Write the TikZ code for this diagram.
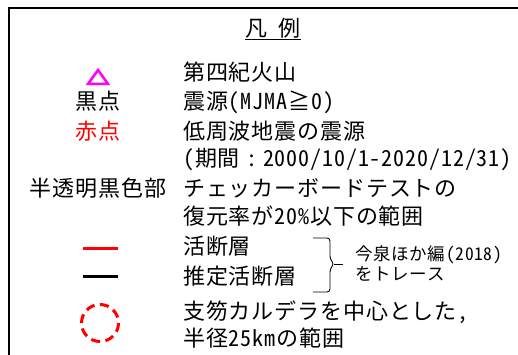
\documentclass[tikz,border=0pt]{standalone}
\usepackage{fontspec}
\usepackage{tikz}
\newfontfamily\jpfont[RawFeature=+hwid, LetterSpace=4]{Noto Sans CJK JP}
\definecolor{faultRed}{RGB}{255,0,0}
\definecolor{volcMagenta}{RGB}{255,0,255}

\begin{document}
\begin{tikzpicture}[x=1pt, y=-1pt,
  txt/.style={anchor=west, inner sep=0pt, text height=0.88em, text depth=0.12em,
              font=\jpfont\fontsize{22}{26}\selectfont},
  lbl/.style={txt, anchor=center},
  note/.style={txt, font=\jpfont\fontsize{17.5}{21}\selectfont},
  sym/.style={line width=3pt}]

  \useasboundingbox (0,0) rectangle (518,355);
  \draw[line width=2pt] (518,8) -- (9,8) -- (9,356);

  \node[lbl] (title) at (273,33) {凡\hspace{0.5em}例};
  \draw[line width=1.2pt] ([yshift=-1pt]title.south west) -- ([yshift=-1pt]title.south east);

  % symbols / labels
  \draw[volcMagenta, line width=2.5pt] (88,84) -- (108,84) -- (98,70) -- cycle;
  \node[lbl] (black) at (98,106) {黒点};
  \node[lbl, text=faultRed] (red) at (98,136) {赤点};
  \node[lbl] (shade) at (98,193) {半透明黒色部};
  \draw[sym, faultRed] (83,248) -- (118,248);
  \draw[sym] (83,276) -- (118,276);
  \draw[sym, faultRed, dash pattern=on 9pt off 5.5pt] (100,323) circle (18.5);

  % descriptions
  \node[txt] (volc)  at (183,77)  {第四紀火山};
  \node[txt] (hypo)  at (183,106) {震源(MJMA≧0)};
  \node[txt] (lfe)   at (183,136) {低周波地震の震源};
  \node[txt] (term)  at (183,163) {(期間\makebox[1.05em]{:}2000/10/1-2020/12/31)};
  \node[txt] (check) at (183,193) {チェッカーボードテストの};
  \node[txt] (rate)  at (183,221) {復元率が20\%以下の範囲};
  \node[txt] (act)   at (183,251) {活断層};
  \node[txt] (est)   at (183,281) {推定活断層};
  \node[txt] (cald)  at (183,316) {支笏カルデラを中心とした，};
  \node[txt] (rad)   at (183,343) {半径25kmの範囲};

  % brace + source
  \draw[line width=0.9pt, rounded corners=3pt] (313,238) -- (330,238) -- (330,259)
    -- (334,264) -- (330,269) -- (330,292) -- (313,292);
  \draw[line width=0.9pt] (334,264) -- (343,264);
  \node[note] (src)   at (355,257) {今泉ほか編(2018)};
  \node[note] (trace) at (355,277) {をトレース};

\end{tikzpicture}
\end{document}
